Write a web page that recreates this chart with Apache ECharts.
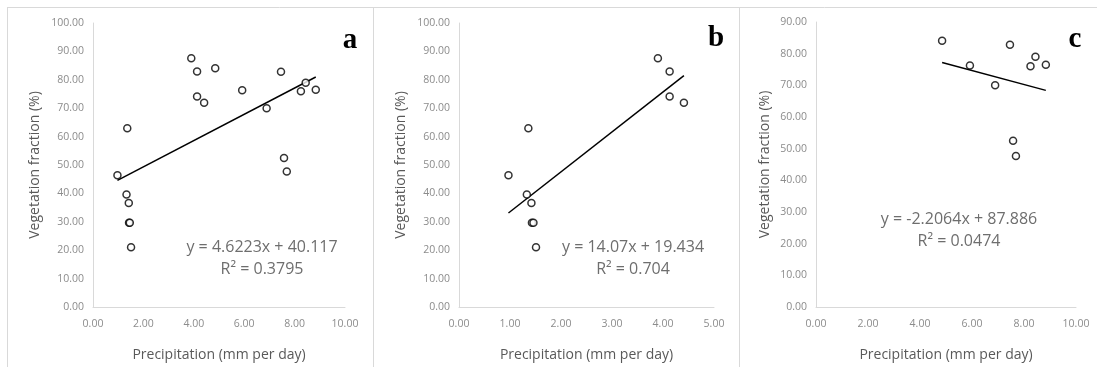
<!DOCTYPE html>
<html>
<head>
<meta charset="utf-8">
<script src="https://cdn.jsdelivr.net/npm/echarts@6/dist/echarts.min.js"></script>
<style>
html,body{margin:0;padding:0;background:#fff;}
#c{width:1097px;height:367px;}
</style>
</head>
<body>
<div id="c"></div>
<script>
// Panel a: all sites
const precipA = [0.97, 1.36, 1.33, 1.42, 1.43, 1.46, 1.51, 3.90, 4.13, 4.13, 4.41, 4.85, 5.92, 6.89, 7.46, 7.58, 7.69, 8.25, 8.44, 8.84];
const vegA    = [46.4, 62.9, 39.6, 36.6, 29.7, 29.7, 21.0, 87.6, 82.9, 74.1, 71.9, 84.1, 76.3, 70.0, 82.8, 52.5, 47.7, 76.0, 79.0, 76.5];
// Panel b: precipitation < 5
const precipB = [0.97, 1.36, 1.33, 1.42, 1.43, 1.46, 1.51, 3.90, 4.13, 4.13, 4.41];
const vegB    = [46.4, 62.9, 39.6, 36.6, 29.7, 29.7, 21.0, 87.6, 82.9, 74.1, 71.9];
// Panel c: precipitation > 4.5
const precipC = [4.85, 5.92, 6.89, 7.46, 7.58, 7.69, 8.25, 8.44, 8.84];
const vegC    = [84.1, 76.3, 70.0, 82.8, 52.5, 47.7, 76.0, 79.0, 76.5];
// Trend line endpoints (x, y)
const trendAx = [0.97, 8.84], trendAy = [44.6, 81.0];
const trendBx = [0.97, 4.41], trendBy = [33.1, 81.5];
const trendCx = [4.85, 8.84], trendCy = [77.2, 68.4];
// Tick settings
const xMaxA = 10, xIntA = 2, xMaxB = 5, xIntB = 1, xMaxC = 10, xIntC = 2;
const yMaxA = 100, yMaxB = 100, yMaxC = 90, yInt = 10;
// Texts
const panelLabels = ['a', 'b', 'c'];
const eqTexts = ['y = 4.6223x + 40.117', 'y = 14.07x + 19.434', 'y = -2.2064x + 87.886'];
const r2Texts = ['R² = 0.3795', 'R² = 0.704', 'R² = 0.0474'];
const xName = 'Precipitation (mm per day)';
const yName = 'Vegetation fraction (%)';

const FONT = 'Open Sans';
const tickColor = '#8c8c8c';
const nameColor = '#595959';
const lineColor = '#d9d9d9';

function zip(a, b) { return a.map((v, i) => [v, b[i]]); }

const grids = [
  {left: 93, right: 1097 - 345, top: 23, bottom: 59},
  {left: 459, right: 1097 - 714, top: 23, bottom: 59},
  {left: 816, right: 1097 - 1076, top: 22, bottom: 59}
];
const xSpecs = [[xMaxA, xIntA], [xMaxB, xIntB], [xMaxC, xIntC]];
const ySpecs = [yMaxA, yMaxB, yMaxC];
const yNameGaps = [51, 51, 44];

const xAxes = xSpecs.map((s, i) => ({
  type: 'value', gridIndex: i, min: 0, max: s[0], interval: s[1],
  axisLine: {show: true, onZero: false, lineStyle: {color: lineColor, width: 1}},
  axisTick: {show: false}, splitLine: {show: false},
  axisLabel: {color: tickColor, fontFamily: FONT, fontSize: 10.5, margin: 12, formatter: v => v.toFixed(2)},
  name: xName, nameLocation: 'middle', nameGap: 41,
  nameTextStyle: {color: nameColor, fontFamily: FONT, fontSize: 14}
}));
const yAxes = ySpecs.map((m, i) => ({
  type: 'value', gridIndex: i, min: 0, max: m, interval: yInt,
  axisLine: {show: true, lineStyle: {color: lineColor, width: 1}},
  axisTick: {show: false}, splitLine: {show: false},
  axisLabel: {color: tickColor, fontFamily: FONT, fontSize: 10.5, margin: 9, formatter: v => v.toFixed(2)},
  name: yName, nameLocation: 'middle', nameGap: yNameGaps[i], nameRotate: 90,
  nameTextStyle: {color: nameColor, fontFamily: FONT, fontSize: 14}
}));

const pts = [zip(precipA, vegA), zip(precipB, vegB), zip(precipC, vegC)];
const trends = [zip(trendAx, trendAy), zip(trendBx, trendBy), zip(trendCx, trendCy)];
const series = [];
for (let i = 0; i < 3; i++) {
  series.push({
    type: 'line', xAxisIndex: i, yAxisIndex: i, data: trends[i], showSymbol: false,
    lineStyle: {color: '#000', width: 1.5}, silent: true, z: 2
  });
  series.push({
    type: 'scatter', xAxisIndex: i, yAxisIndex: i, data: pts[i], symbol: 'circle', symbolSize: 7,
    itemStyle: {color: '#fff', borderColor: '#000', borderWidth: 1.5}, z: 3
  });
}

// Panel frames and texts
const eqPos = [[262, 247, 269], [633, 247, 269], [959, 219, 241]];
const labelPos = [[350, 41], [716, 39], [1075, 40]];
const graphic = [];
[7, 373, 739].forEach(x => {
  graphic.push({type: 'line', shape: {x1: x + 0.5, y1: 7.5, x2: x + 0.5, y2: 367}, style: {stroke: lineColor, lineWidth: 1}});
});
graphic.push({type: 'line', shape: {x1: 7, y1: 7.5, x2: 1097, y2: 7.5}, style: {stroke: lineColor, lineWidth: 1}});
for (let i = 0; i < 3; i++) {
  graphic.push({type: 'text', x: eqPos[i][0], y: eqPos[i][1], style: {text: eqTexts[i], fill: '#6e6e6e', font: '16px "Open Sans"', textAlign: 'center', textVerticalAlign: 'middle'}});
  graphic.push({type: 'text', x: eqPos[i][0], y: eqPos[i][2], style: {text: r2Texts[i], fill: '#6e6e6e', font: '16px "Open Sans"', textAlign: 'center', textVerticalAlign: 'middle'}});
  graphic.push({type: 'text', x: labelPos[i][0], y: labelPos[i][1], style: {text: panelLabels[i], fill: '#000', font: 'bold 29px "Liberation Serif"', textAlign: 'center', textVerticalAlign: 'middle'}});
}

const chart = echarts.init(document.getElementById('c'), null, {renderer: 'canvas'});
chart.setOption({
  backgroundColor: '#fff',
  animation: false,
  grid: grids,
  xAxis: xAxes,
  yAxis: yAxes,
  series: series,
  graphic: graphic
});
</script>
</body>
</html>
